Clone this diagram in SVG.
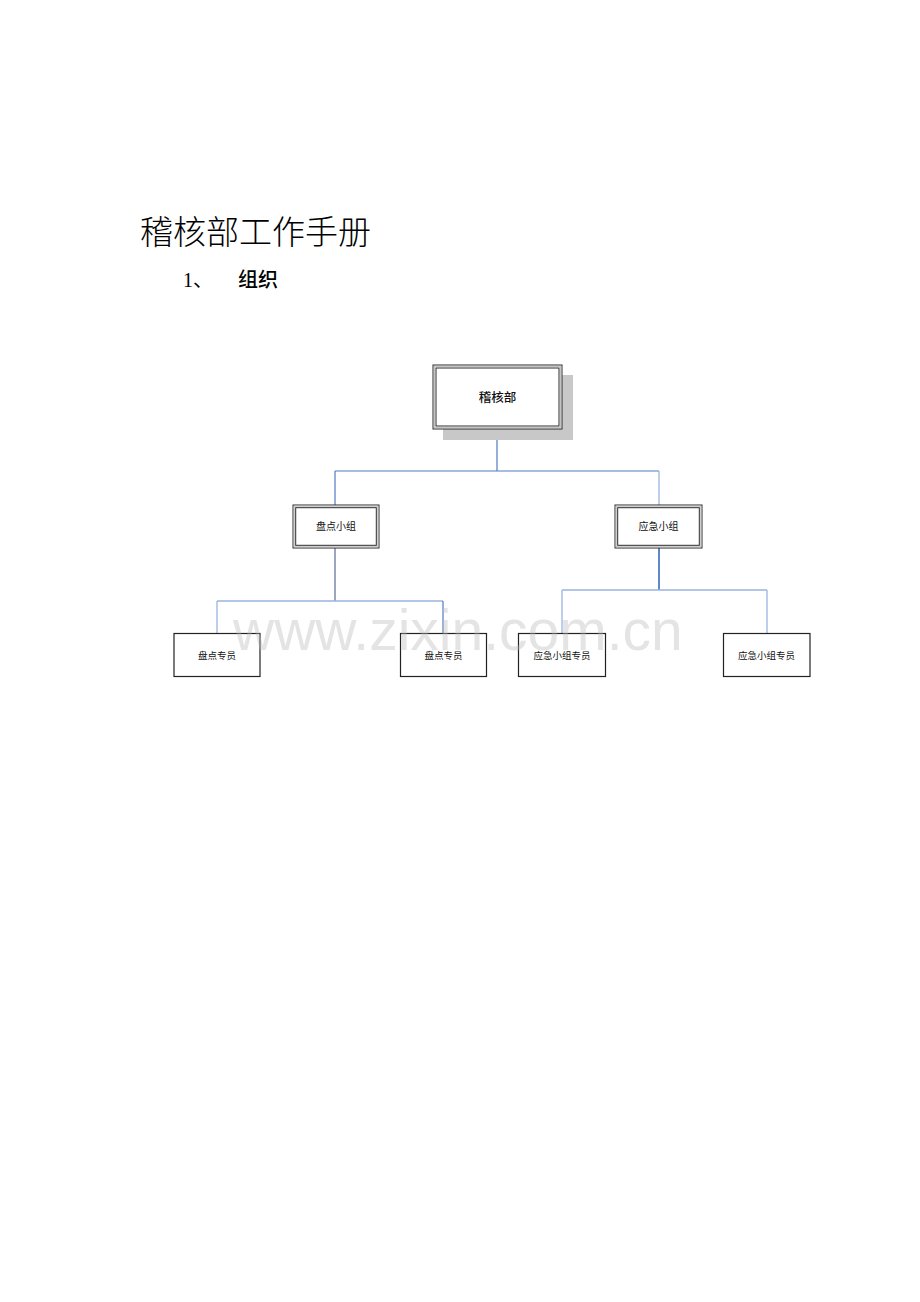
<svg xmlns="http://www.w3.org/2000/svg" width="920" height="1302" viewBox="0 0 920 1302">
<style>
.t{font-family:"Liberation Sans","Noto Sans CJK SC",sans-serif;fill:#111;text-anchor:middle}
.dbl-o{fill:#fff;stroke:#2a2a2a;stroke-width:1}
.dbl-m{fill:none;stroke:#c4c4c4;stroke-width:1}
.dbl-i{fill:none;stroke:#2a2a2a;stroke-width:1}
.leaf{fill:#fff;stroke:#222;stroke-width:1.2}
.c1{stroke:#4f7ac4;stroke-width:1.2;fill:none}
.c2{stroke:#98b4e0;stroke-width:1.3;fill:none}
</style>
<rect width="920" height="1302" fill="#fff"/>
<text x="140" y="244" font-family="'Liberation Serif','Noto Sans CJK SC',serif" font-size="33" font-weight="300" fill="#000">稽核部工作手册</text>
<text x="183" y="287" font-family="'Liberation Serif','Noto Sans CJK SC',serif" font-size="20" fill="#000">1、</text>
<text x="238" y="287" font-family="'Noto Sans CJK SC',sans-serif" font-size="20" font-weight="500" fill="#000">组织</text>

<g id="connectors">
<path class="c1" d="M497 430V471"/>
<path class="c1" d="M335 471H659"/>
<path class="c1" d="M335 471V505"/>
<path class="c2" d="M659 471V505"/>
<path d="M335 548V601" stroke="#4a5f8a" stroke-width="1.1" fill="none"/>
<path class="c2" d="M217 601H443"/>
<path class="c2" d="M217 601V633"/>
<path class="c1" d="M443 601V633"/>
<path d="M659 548V590" stroke="#4f7ac4" stroke-width="1.8" fill="none"/>
<path class="c2" d="M562 590H767"/>
<path class="c2" d="M562 590V633"/>
<path class="c2" d="M767 590V633"/>
</g>

<g id="n-jihebu">
<rect x="443" y="375" width="130" height="65" fill="#c8c8c8"/>
<rect class="dbl-o" x="433" y="365" width="129" height="64"/>
<rect class="dbl-m" x="434.5" y="366.5" width="126" height="61"/>
<rect class="dbl-i" x="436" y="368" width="123" height="58"/>
<text class="t" x="497.5" y="401.5" font-size="12.5" font-weight="500">稽核部</text>
</g>

<g id="n-pandian">
<rect class="dbl-o" x="293" y="505" width="86" height="43"/>
<rect class="dbl-m" x="294.3" y="506.3" width="83.4" height="40.4"/>
<rect class="dbl-i" x="295.7" y="507.7" width="80.6" height="37.6"/>
<text class="t" x="336" y="530" font-size="10">盘点小组</text>
</g>

<g id="n-yingji">
<rect class="dbl-o" x="615" y="505" width="87" height="43"/>
<rect class="dbl-m" x="616.3" y="506.3" width="84.4" height="40.4"/>
<rect class="dbl-i" x="617.7" y="507.7" width="81.6" height="37.6"/>
<text class="t" x="658.5" y="530" font-size="10">应急小组</text>
</g>

<g id="n-pd1">
<rect class="leaf" x="174" y="633.5" width="86" height="43"/>
<text class="t" x="217" y="659" font-size="9.5">盘点专员</text>
</g>
<g id="n-pd2">
<rect class="leaf" x="400.5" y="633.5" width="86" height="43"/>
<text class="t" x="443.5" y="659" font-size="9.5">盘点专员</text>
</g>
<g id="n-yj1">
<rect class="leaf" x="518.5" y="633.5" width="87" height="43"/>
<text class="t" x="562" y="659" font-size="9.5">应急小组专员</text>
</g>
<g id="n-yj2">
<rect class="leaf" x="723.5" y="633.5" width="86.5" height="43"/>
<text class="t" x="766.5" y="659" font-size="9.5">应急小组专员</text>
</g>

<text x="233" y="650" font-family="'Liberation Sans',sans-serif" font-size="57" fill="#b8b8b8" fill-opacity="0.38">www.zixin.com.cn</text>
</svg>
